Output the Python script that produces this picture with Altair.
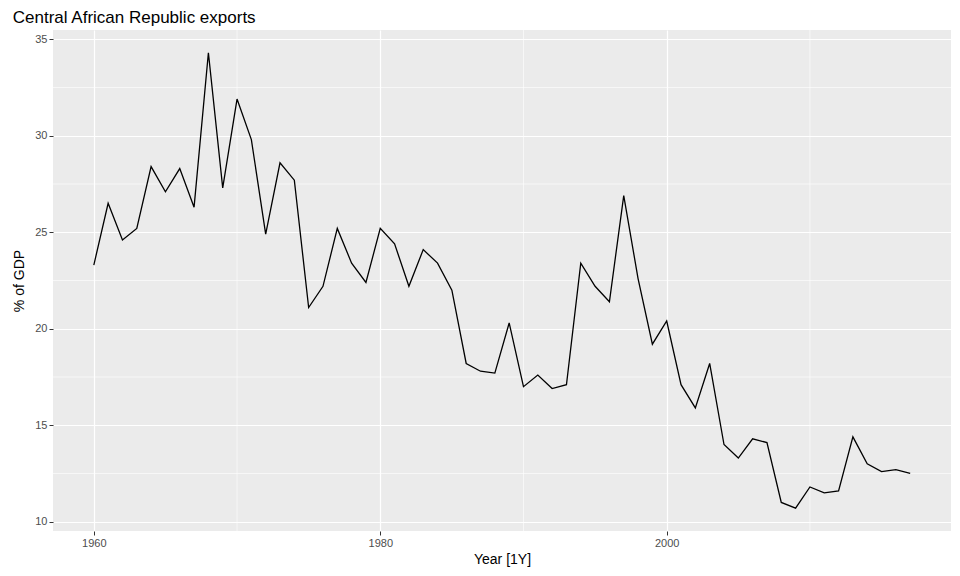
import pandas as pd
import altair as alt

years = list(range(1960, 2018))
exports = [
    23.3, 26.5, 24.6, 25.2, 28.4, 27.1, 28.3, 26.3, 34.3, 27.3,
    31.9, 29.8, 24.9, 28.6, 27.7, 21.1, 22.2, 25.2, 23.4, 22.4,
    25.2, 24.4, 22.2, 24.1, 23.4, 22.0, 18.2, 17.8, 17.7, 20.3,
    17.0, 17.6, 16.9, 17.1, 23.4, 22.2, 21.4, 26.9, 22.6, 19.2,
    20.4, 17.1, 15.9, 18.2, 14.0, 13.3, 14.3, 14.1, 11.0, 10.7,
    11.8, 11.5, 11.6, 14.4, 13.0, 12.6, 12.7, 12.5,
]
minor_x = [1970, 1990, 2010]
minor_y = [12.5, 17.5, 22.5, 27.5, 32.5]

df = pd.DataFrame({'year': years, 'value': exports})

x_scale = alt.Scale(domain=[1957.15, 2019.85], nice=False, zero=False)
y_scale = alt.Scale(domain=[9.52, 35.48], nice=False, zero=False)

line = alt.Chart(df).mark_line(color='black', strokeWidth=1.3).encode(
    x=alt.X('year:Q', scale=x_scale, title='Year [1Y]',
            axis=alt.Axis(values=[1960, 1980, 2000], format='d')),
    y=alt.Y('value:Q', scale=y_scale, title='% of GDP',
            axis=alt.Axis(values=[10, 15, 20, 25, 30, 35], titlePadding=8)),
)

vgrid = alt.Chart(pd.DataFrame({'x': minor_x})).mark_rule(
    color='white', strokeWidth=0.6).encode(x=alt.X('x:Q', scale=x_scale))
hgrid = alt.Chart(pd.DataFrame({'y': minor_y})).mark_rule(
    color='white', strokeWidth=0.6).encode(y=alt.Y('y:Q', scale=y_scale))

chart = (vgrid + hgrid + line).properties(
    width=944, height=560,
    padding={'left': 4, 'top': 0, 'right': 0, 'bottom': 2},
    autosize=alt.AutoSizeParams(type='fit', contains='padding'),
    title=alt.TitleParams('Central African Republic exports', anchor='start',
                          fontSize=17, fontWeight='normal', font='Liberation Sans',
                          color='black', offset=3),
).configure_view(fill='#EBEBEB', stroke=None).configure_axis(
    gridColor='white', gridWidth=1.2, domain=False, tickColor='#333333',
    tickSize=4, labelColor='#4D4D4D', labelFontSize=11, labelFont='Liberation Sans',
    titleFont='Liberation Sans', titleFontSize=14, titleFontWeight='normal',
    titleColor='black',
)

chart.save("out.html", embed_options={"renderer": "svg", "actions": False})
